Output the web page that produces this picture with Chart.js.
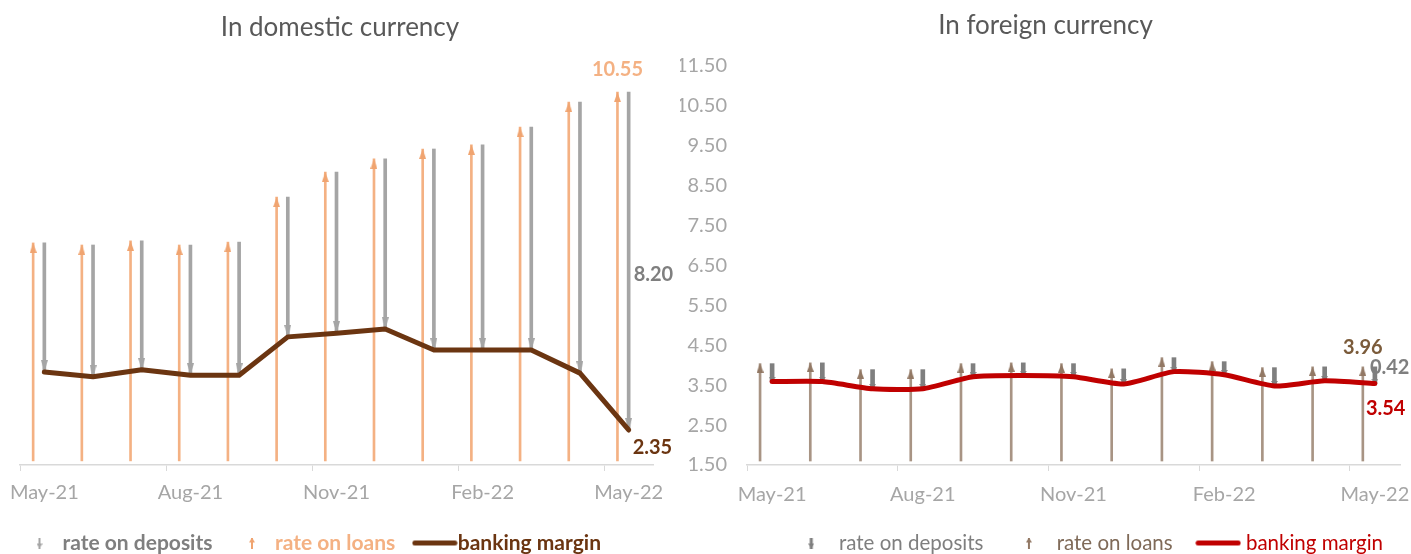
<!DOCTYPE html>
<html>
<head>
<meta charset="utf-8">
<script src="https://cdn.jsdelivr.net/npm/chart.js@4.4.1/dist/chart.umd.min.js"></script>
<style>
  html, body { margin: 0; padding: 0; background: #ffffff; width: 1411px; height: 554px; overflow: hidden; }
  #left  { position: absolute; left: 0;     top: 0; }
  #right { position: absolute; left: 680px; top: 0; }
</style>
</head>
<body>
<canvas id="left" width="680" height="554"></canvas>
<canvas id="right" width="731" height="554"></canvas>
<script>
// ---------------- DATA ----------------
const months = ['May-21','Jun-21','Jul-21','Aug-21','Sep-21','Oct-21','Nov-21','Dec-21','Jan-22','Feb-22','Mar-22','Apr-22','May-22'];
const quarterLabels = ['May-21','Aug-21','Nov-21','Feb-22','May-22'];

const domesticLoans    = [6.89, 6.84, 6.94, 6.84, 6.91, 8.00, 8.61, 8.93, 9.17, 9.27, 9.70, 10.31, 10.55];
const domesticDeposits = [3.13, 3.20, 3.13, 3.16, 3.23, 3.39, 3.91, 4.13, 4.88, 4.98, 5.41, 6.58, 8.20];
const domesticMargin   = [3.76, 3.64, 3.81, 3.68, 3.68, 4.61, 4.70, 4.80, 4.29, 4.29, 4.29, 3.73, 2.35];

const foreignLoans    = [4.04, 4.06, 3.89, 3.89, 4.04, 4.06, 4.04, 3.91, 4.19, 4.09, 3.94, 3.96, 3.96];
const foreignDeposits = [0.45, 0.47, 0.48, 0.48, 0.33, 0.32, 0.33, 0.38, 0.35, 0.33, 0.46, 0.35, 0.42];
const foreignMargin   = [3.59, 3.59, 3.41, 3.41, 3.71, 3.74, 3.71, 3.53, 3.84, 3.76, 3.48, 3.61, 3.54];

// ---------------- STYLE ----------------
const FONT = 'Lato, "Open Sans", sans-serif';
const AXIS_MIN = 1.5, AXIS_MAX = 11.5, SHAFT_BASE = 1.6;
const C = {
  title: '#595959', tick: '#A6A6A6', axis: '#D9D9D9',
  domLoan: '#F4B183', domLoanHead: '#F0A470', domDep: '#A5A5A5', domMargin: '#6B3511',
  forLoan: '#A89484', forLoanHead: '#927864', forDep: '#7F7F7F', forMargin: '#C00000',
  forLoanText: '#7B5B3A'
};

function head(color, w, h, dir) {
  const c = document.createElement('canvas');
  c.width = w; c.height = 2 * h;
  const g = c.getContext('2d');
  g.fillStyle = color;
  g.beginPath();
  if (dir === 'up') { g.moveTo(w / 2, h); g.lineTo(w, 2 * h); g.lineTo(0, 2 * h); }
  else { g.moveTo(w / 2, h); g.lineTo(w, 0); g.lineTo(0, 0); }
  g.closePath(); g.fill();
  return c;
}
function arrowIcon(color, dir, shaft) {
  const w = 6, h = 11;
  const c = document.createElement('canvas');
  c.width = w; c.height = h;
  const g = c.getContext('2d');
  g.fillStyle = color;
  g.fillRect(w / 2 - shaft / 2, 0, shaft, h);
  g.beginPath();
  if (dir === 'up') { g.moveTo(w / 2, 0); g.lineTo(w, 5); g.lineTo(0, 5); }
  else { g.moveTo(w / 2, h); g.lineTo(w, h - 5); g.lineTo(0, h - 5); }
  g.closePath(); g.fill();
  return c;
}
function lineIcon(color) {
  const c = document.createElement('canvas');
  c.width = 46; c.height = 7;
  const g = c.getContext('2d');
  g.strokeStyle = color; g.lineWidth = 5; g.lineCap = 'round';
  g.beginPath(); g.moveTo(3, 3.5); g.lineTo(43, 3.5); g.stroke();
  return c;
}

const slot = i => i + 0.5;           // category centre on the linear month axis
const endLabels = {
  id: 'endLabels',
  afterDatasetsDraw(chart, args, opts) {
    const ctx = chart.ctx;
    (opts.items || []).forEach(it => {
      const el = chart.getDatasetMeta(it.dataset).data[it.index];
      if (!el) return;
      const y = it.mid ? (el.y + el.base) / 2 : el.y;
      ctx.save();
      ctx.font = 'bold 20px ' + FONT;
      ctx.fillStyle = it.color;
      ctx.textAlign = it.align || 'center';
      ctx.textBaseline = 'middle';
      ctx.fillText(it.text, el.x + (it.dx || 0), y + (it.dy || 0));
      ctx.restore();
    });
  }
};

function buildChart(canvasId, cfg) {
  const last = months.length - 1;
  const datasets = [
    { type: 'line', label: 'banking margin', data: cfg.margin.map((v, i) => ({x: slot(i), y: v})),
      borderColor: cfg.marginColor, backgroundColor: cfg.marginColor, borderWidth: 5, pointRadius: 0,
      tension: cfg.tension, borderJoinStyle: 'round', borderCapStyle: 'round', clip: false },
    { type: 'line', label: 'rate on deposits', showLine: false, clip: false,
      data: cfg.loans.map((v, i) => ({x: slot(i), y: v - cfg.deposits[i]})),
      pointStyle: cfg.depHead, pointRadius: 5, pointHoverRadius: 5 },
    { type: 'line', label: 'rate on loans', showLine: false, clip: false,
      data: cfg.loans.map((v, i) => ({x: slot(i) - cfg.loanShift, y: v})),
      pointStyle: cfg.loanHead, pointRadius: 5, pointHoverRadius: 5 },
    { type: 'bar', label: 'deposits shaft', grouped: false, barThickness: cfg.depWidth,
      backgroundColor: cfg.depColor, borderWidth: 0,
      data: cfg.loans.map((v, i) => ({x: slot(i), y: [v - cfg.deposits[i], v]})) },
    { type: 'bar', label: 'loans shaft', grouped: false, barThickness: 2,
      backgroundColor: cfg.loanColor, borderWidth: 0,
      data: cfg.loans.map((v, i) => ({x: slot(i) - cfg.loanShift, y: [SHAFT_BASE, v]})) }
  ];

  return new Chart(document.getElementById(canvasId), {
    type: 'bar',
    data: { datasets },
    plugins: [endLabels],
    options: {
      responsive: false, animation: false, events: [],
      layout: { padding: 0 },
      scales: {
        x: {
          type: 'linear', min: 0, max: months.length, offset: false,
          afterBuildTicks: s => { s.ticks = quarterLabels.map((_, k) => ({ value: k * 3 })); },
          afterFit: s => { s.height = cfg.xHeight; s.paddingLeft = 0; s.paddingRight = 0; },
          ticks: { callback: v => quarterLabels[v / 3], color: C.tick, padding: cfg.xPad,
                   labelOffset: cfg.labelOffset, maxRotation: 0, autoSkip: false,
                   font: { family: FONT, size: 20 } },
          grid: { display: true, offset: false, drawOnChartArea: false, drawTicks: true, tickLength: 6, color: C.axis, lineWidth: 1 },
          border: { display: true, color: C.axis, width: 1.5 }
        },
        y: {
          type: 'linear', position: 'left', min: AXIS_MIN, max: AXIS_MAX,
          afterFit: s => { s.width = cfg.yWidth; },
          ticks: { display: cfg.showY, stepSize: 1, padding: 20, color: C.tick,
                   callback: v => v.toFixed(2), font: { family: FONT, size: 20 } },
          grid: { display: false, drawTicks: false },
          border: { display: false }
        },
        yPad: {
          type: 'linear', position: 'right', display: true,
          afterFit: s => { s.width = cfg.rightPad; },
          ticks: { display: false }, grid: { display: false, drawTicks: false }, border: { display: false }
        }
      },
      plugins: {
        tooltip: { enabled: false },
        title: { display: true, text: cfg.title, color: C.title,
                 font: { family: FONT, size: 26, weight: 'normal', lineHeight: 1.2 },
                 padding: cfg.titlePad },
        legend: {
          display: true, position: 'bottom', align: cfg.legendAlign, fullSize: true,
          maxHeight: cfg.legendMaxH,
          onClick: () => {},
          labels: {
            usePointStyle: true, pointStyleWidth: cfg.legendBox, padding: cfg.legendPad,
            font: { family: FONT, size: cfg.legendSize, weight: cfg.legendWeight },
            generateLabels: () => cfg.legendItems
          }
        },
        endLabels: { items: cfg.labels(last) }
      }
    }
  });
}

// ---------------- LEFT: domestic currency ----------------
buildChart('left', {
  title: 'In domestic currency',
  loans: domesticLoans, deposits: domesticDeposits, margin: domesticMargin,
  marginColor: C.domMargin, tension: 0,
  depColor: C.domDep, depWidth: 3, loanColor: C.domLoan, loanShift: 0.23,
  depHead: head(C.domDep, 7, 12, 'down'), loanHead: head(C.domLoanHead, 7, 10, 'up'),
  xHeight: 40.5, xPad: 10, labelOffset: 24.35,
  yWidth: 20, showY: false, rightPad: 27,
  titlePad: { top: 12.4, bottom: 9.4 },
  legendAlign: 'start', legendMaxH: 48.5, legendBox: 25, legendPad: 27, legendSize: 21, legendWeight: 'bold',
  legendItems: [
    { text: 'rate on deposits', pointStyle: arrowIcon(C.domDep, 'down', 2), fontColor: '#7F7F7F', fillStyle: C.domDep, strokeStyle: C.domDep, lineWidth: 0, hidden: false, datasetIndex: 1 },
    { text: 'rate on loans', pointStyle: arrowIcon(C.domLoanHead, 'up', 2), fontColor: '#F4B183', fillStyle: C.domLoan, strokeStyle: C.domLoan, lineWidth: 0, hidden: false, datasetIndex: 2 },
    { text: 'banking margin', pointStyle: lineIcon(C.domMargin), fontColor: C.domMargin, fillStyle: C.domMargin, strokeStyle: C.domMargin, lineWidth: 0, hidden: false, datasetIndex: 0 }
  ],
  labels: last => [
    { dataset: 2, index: last, text: domesticLoans[last].toFixed(2), color: '#F4B183', dy: -23 },
    { dataset: 3, index: last, mid: true, text: domesticDeposits[last].toFixed(2), color: '#7F7F7F', align: 'left', dx: 5, dy: 13 },
    { dataset: 0, index: last, text: domesticMargin[last].toFixed(2), color: C.domMargin, align: 'left', dx: 4, dy: 18 }
  ]
});

// ---------------- RIGHT: foreign currency ----------------
buildChart('right', {
  title: 'In foreign currency',
  loans: foreignLoans, deposits: foreignDeposits, margin: foreignMargin,
  marginColor: C.forMargin, tension: 0.2,
  depColor: C.forDep, depWidth: 4, loanColor: C.forLoan, loanShift: 0.24,
  depHead: head(C.forDep, 7, 5, 'down'), loanHead: head(C.forLoanHead, 7, 9, 'up'),
  xHeight: 39.75, xPad: 11.5, labelOffset: 25.1,
  yWidth: 67, showY: true, rightPad: 11,
  titlePad: { top: 10.4, bottom: 24.4 },
  legendAlign: 'end', legendMaxH: 49.25, legendBox: 35, legendPad: 28, legendSize: 20.5, legendWeight: 'normal',
  legendItems: [
    { text: 'rate on deposits', pointStyle: arrowIcon(C.forDep, 'down', 3), fontColor: '#7F7F7F', fillStyle: C.forDep, strokeStyle: C.forDep, lineWidth: 0, hidden: false, datasetIndex: 1 },
    { text: 'rate on loans', pointStyle: arrowIcon(C.forLoanHead, 'up', 2), fontColor: '#7F6A58', fillStyle: C.forLoan, strokeStyle: C.forLoan, lineWidth: 0, hidden: false, datasetIndex: 2 },
    { text: 'banking margin', pointStyle: lineIcon(C.forMargin), fontColor: C.forMargin, fillStyle: C.forMargin, strokeStyle: C.forMargin, lineWidth: 0, hidden: false, datasetIndex: 0 }
  ],
  labels: last => [
    { dataset: 2, index: last, text: foreignLoans[last].toFixed(2), color: C.forLoanText, dy: -19 },
    { dataset: 3, index: last, text: foreignDeposits[last].toFixed(2), color: '#7F7F7F', align: 'left', dx: -5, dy: 1 },
    { dataset: 0, index: last, text: foreignMargin[last].toFixed(2), color: C.forMargin, align: 'left', dx: -9, dy: 25 }
  ]
});
</script>
</body>
</html>
